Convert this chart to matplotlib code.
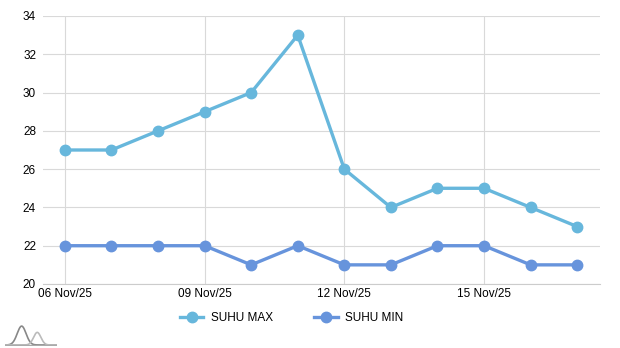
import matplotlib
matplotlib.use("Agg")
import matplotlib.pyplot as plt
import numpy as np

dates = ["06 Nov/25", "07 Nov/25", "08 Nov/25", "09 Nov/25", "10 Nov/25", "11 Nov/25",
         "12 Nov/25", "13 Nov/25", "14 Nov/25", "15 Nov/25", "16 Nov/25", "17 Nov/25"]
suhu_max = [27, 27, 28, 29, 30, 33, 26, 24, 25, 25, 24, 23]
suhu_min = [22, 22, 22, 22, 21, 22, 21, 21, 22, 22, 21, 21]
y_ticks = [20, 22, 24, 26, 28, 30, 32, 34]

plt.rcParams['font.family'] = ['Liberation Sans', 'DejaVu Sans']

fig = plt.figure(figsize=(6.2, 3.48), dpi=100)
ax = fig.add_axes([43/620, 1-284/348, (600-43)/620, (284-16)/348])

x = np.arange(len(dates))
ax.plot(x, suhu_max, color="#67b7dc", lw=2.4, marker="o", ms=7.5, label="SUHU MAX", zorder=3)
ax.plot(x, suhu_min, color="#6794dc", lw=2.4, marker="o", ms=7.5, label="SUHU MIN", zorder=3)

ax.set_xlim(-0.47, 11.49)
ax.set_ylim(20, 34)
ax.set_yticks(y_ticks)
ax.set_xticks(x[::3])
ax.set_xticklabels(dates[::3])
ax.grid(True, color="#d9d9d9", lw=0.8)
ax.set_axisbelow(True)
for s in ["top", "right", "left"]:
    ax.spines[s].set_visible(False)
ax.spines["bottom"].set_color("#cccccc")
ax.spines["bottom"].set_linewidth(0.8)
ax.tick_params(axis="both", length=0, labelsize=8.5, colors="#000000")
ax.tick_params(axis="y", pad=5)
ax.tick_params(axis="x", pad=3)

leg = fig.legend(loc="center", bbox_to_anchor=(0.47, 1-318/348), ncol=2, frameon=False,
                 fontsize=8.5, handlelength=2.0, columnspacing=3.5, handletextpad=0.6)

# small logo bottom-left
lax = fig.add_axes([5/620, 2/348, 52/620, 22/348])
t = np.linspace(0, 1, 200)
lax.plot(t, 0.9*np.exp(-((t-0.32)/0.12)**2), color="#888888", lw=1.2)
lax.plot(t, 0.6*np.exp(-((t-0.62)/0.1)**2) + 0.0, color="#bbbbbb", lw=1.2)
lax.plot([0, 1], [0, 0], color="#aaaaaa", lw=1)
lax.set_xlim(0, 1)
lax.set_ylim(-0.05, 1.0)
lax.axis("off")

fig.savefig("out.png", dpi=100)
